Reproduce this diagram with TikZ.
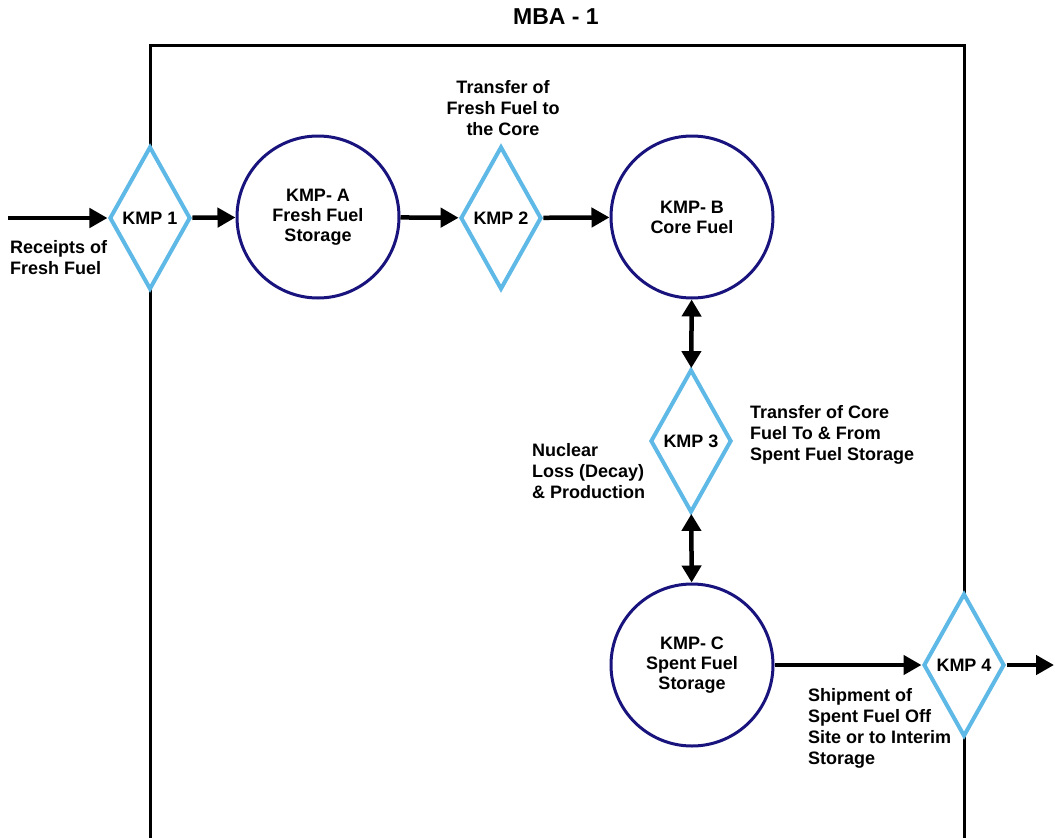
\documentclass[tikz,border=0pt]{standalone}
\usepackage{fontspec}
\setmainfont{Liberation Sans}
\usetikzlibrary{shapes.geometric,arrows.meta}
\definecolor{kmpblue}{RGB}{95,185,230}
\definecolor{navy}{RGB}{25,20,125}
\begin{document}
\begin{tikzpicture}[x=1pt,y=-1pt,
  kmpdia/.style={diamond,draw=kmpblue,line width=4pt,fill=white,aspect=0.57,
    minimum width=81pt,minimum height=143pt,inner sep=0pt,
    font=\fontsize{18}{21}\selectfont\bfseries},
  kmpcirc/.style={circle,draw=navy,line width=3pt,fill=white,minimum size=162pt,
    inner sep=0pt,align=center,font=\fontsize{18}{20}\selectfont\bfseries},
  lbl/.style={inner sep=0pt,font=\fontsize{18}{21}\selectfont\bfseries},
  flow/.style={line width=4.5pt,-{Triangle[length=18pt,width=19pt]}},
  dflow/.style={line width=4.5pt,{Triangle[length=17pt,width=19pt]}-{Triangle[length=17pt,width=19pt]}},
  frame/.style={line width=3pt}]
\useasboundingbox (0,0) rectangle (1055,838);
\fill[white] (0,0) rectangle (1055,838);
% frame
\draw[frame] (150,845) -- (150,45) -- (964,45) -- (964,845);
\node[lbl,font=\fontsize{23}{26}\selectfont\bfseries] (title) at (556,17) {MBA - 1};
% nodes
\node[kmpdia] (k1) at (150,218) {KMP 1};
\node[kmpcirc] (A) at (318,217) {KMP- A\\Fresh Fuel\\Storage};
\node[kmpdia] (k2) at (501,218) {KMP 2};
\node[kmpcirc] (B) at (692,217) {KMP- B\\Core Fuel};
\node[kmpdia] (k3) at (691,441) {KMP 3};
\node[kmpcirc] (C) at (692,665) {KMP- C\\Spent Fuel\\Storage};
\node[kmpdia] (k4) at (964,665) {KMP 4};
\coordinate (in) at (8,218);
\coordinate (out) at (1054,665);
% connectors
\draw[flow] (in) -- (k1);
\draw[flow] (k1) -- (A);
\draw[flow] (A) -- (k2);
\draw[flow] (k2) -- (B);
\draw[dflow] (B) -- (k3);
\draw[dflow] (k3) -- (C);
\draw[flow] (C) -- (k4);
\draw[flow] (k4) -- (out);
% labels
\node[lbl,anchor=north west,align=left] (l1) at (10,240) {Receipts of\\Fresh Fuel};
\node[lbl,anchor=north,align=center] (l2) at (503,80) {Transfer of\\Fresh Fuel to\\the Core};
\node[lbl,anchor=north west,align=left] (l3) at (750,405) {Transfer of Core\\Fuel To \& From\\Spent Fuel Storage};
\node[lbl,anchor=north west,align=left] (l4) at (532,443) {Nuclear\\Loss (Decay)\\\& Production};
\node[lbl,anchor=north west,align=left] (l5) at (808,688) {Shipment of\\Spent Fuel Off\\Site or to Interim\\Storage};
\end{tikzpicture}
\end{document}
